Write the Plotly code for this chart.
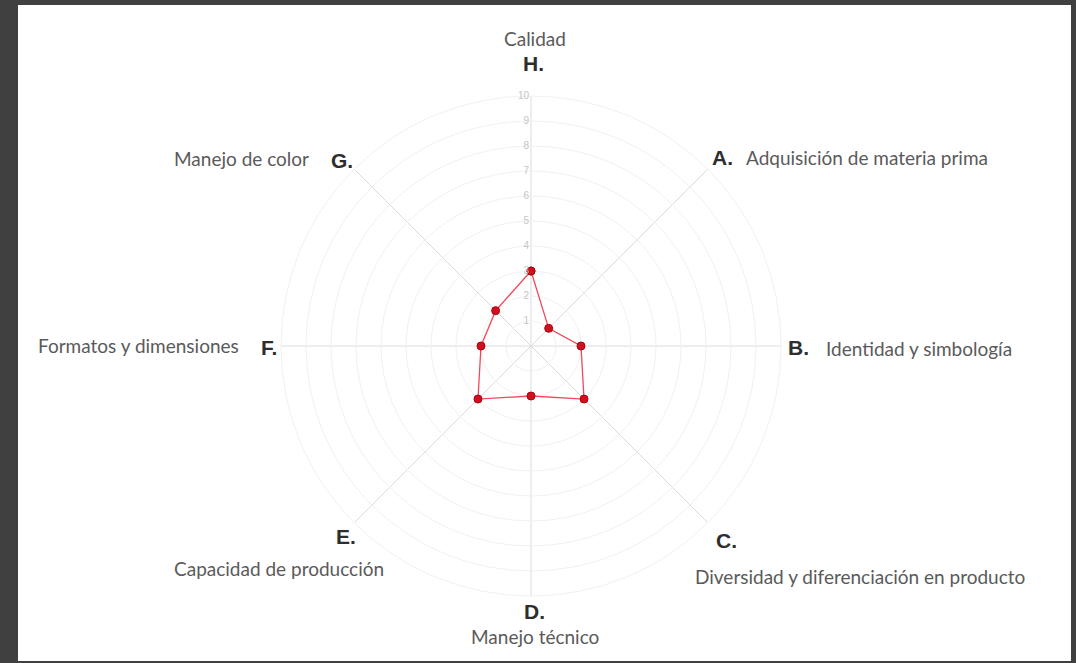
import plotly.graph_objects as go

categories = ["H", "A", "B", "C", "D", "E", "F", "G"]
values = [3, 1, 2, 3, 2, 3, 2, 2]
descriptions = {
    "H": "Calidad",
    "A": "Adquisición de materia prima",
    "B": "Identidad y simbología",
    "C": "Diversidad y diferenciación en producto",
    "D": "Manejo técnico",
    "E": "Capacidad de producción",
    "F": "Formatos y dimensiones",
    "G": "Manejo de color",
}
radial_ticks = [1, 2, 3, 4, 5, 6, 7, 8, 9, 10]

W, H = 1076, 663
cx, cy, R = 531, 346, 250

fig = go.Figure()
fig.add_trace(go.Scatterpolar(
    r=values + values[:1],
    theta=categories + categories[:1],
    mode="lines+markers",
    line=dict(color="#f04a5a", width=1.3),
    marker=dict(size=8, color="#d0101e", line=dict(color="#b00010", width=1)),
    fill="none",
    showlegend=False,
    hoverinfo="skip",
))

fig.update_layout(
    width=W, height=H,
    margin=dict(l=0, r=0, t=0, b=0),
    paper_bgcolor="#404040",
    shapes=[dict(type="rect", xref="paper", yref="paper",
                 x0=18 / W, x1=1071 / W, y0=1 - 661 / H, y1=1 - 5 / H,
                 fillcolor="white", line=dict(width=0), layer="below")],
    polar=dict(
        domain=dict(x=[(cx - R) / W, (cx + R) / W],
                    y=[(H - cy - R) / H, (H - cy + R) / H]),
        bgcolor="white",
        angularaxis=dict(
            categoryorder="array", categoryarray=categories,
            direction="clockwise", rotation=90,
            showticklabels=False, ticks="",
            showline=True, linecolor="#f1f1f1", linewidth=1,
            gridcolor="#dcdcdc", gridwidth=1,
        ),
        radialaxis=dict(
            range=[0, 10], tickvals=radial_ticks, angle=90, tickangle=90,
            side="counterclockwise",
            showline=False, ticks="",
            gridcolor="#f1f1f1", gridwidth=1,
            tickfont=dict(family="Liberation Sans", size=10, color="#c4c4c4"),
        ),
    ),
)

letter_font = dict(family="Liberation Sans", size=21, color="#2e2e2e")
desc_font = dict(family="Lato", size=19, color="#5a5a5a")

def ann(text, x, y, font, xanchor="center"):
    fig.add_annotation(text=text, x=x / W, y=1 - y / H, xref="paper", yref="paper",
                       showarrow=False, font=font, xanchor=xanchor, yanchor="middle")

# letters
letter_pos = {
    "H": (533, 64), "A": (722, 157), "B": (798, 347), "C": (726, 540),
    "D": (534, 611), "E": (346, 536), "F": (269, 347), "G": (342, 160),
}
for k, (x, y) in letter_pos.items():
    ann("<b>" + k + ".</b>", x, y, letter_font)

# descriptions
ann(descriptions["H"], 535, 38, desc_font)
ann(descriptions["A"], 744, 157, desc_font, "left")
ann(descriptions["B"], 824, 348, desc_font, "left")
ann(descriptions["C"], 860, 576, desc_font)
ann(descriptions["D"], 535, 636, desc_font)
ann(descriptions["E"], 279, 568, desc_font)
ann(descriptions["F"], 241, 345, desc_font, "right")
ann(descriptions["G"], 311, 158, desc_font, "right")

fig.write_html("out.html", config={"displayModeBar": False},
               post_script="document.body.style.margin='0';document.body.style.background='#404040';")
